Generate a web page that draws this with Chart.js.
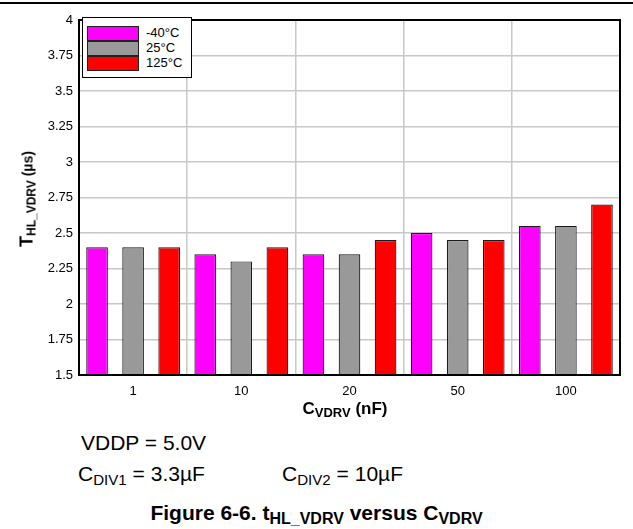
<!DOCTYPE html>
<html>
<head>
<meta charset="utf-8">
<script src="https://cdn.jsdelivr.net/npm/chart.js@4/dist/chart.umd.min.js"></script>
<style>
  body { margin: 0; background: #fff; font-family: "Liberation Sans", Arial, sans-serif; color: #000; }
  #page { position: relative; width: 633px; height: 529px; overflow: hidden; }
  #rule { position: absolute; left: 0; top: 2px; width: 633px; height: 2px; background: #000; }
  #chart-box { position: absolute; left: 0; top: 0; width: 633px; height: 400px; }
  #legend { position: absolute; left: 82px; top: 17px; width: 108px; height: 59px; border: 1.5px solid #000; background: #fff; }
  .legend-row { position: absolute; left: 4px; height: 15px; }
  .legend-swatch { position: absolute; left: 0; top: 0; width: 50px; height: 13px; border: 1px solid #222; }
  .legend-text { position: absolute; left: 59px; top: -1px; font-size: 13px; line-height: 15px; white-space: nowrap; }
  #y-title { position: absolute; left: 27px; top: 199px; transform: translate(-50%, -50%) rotate(-90deg); font-weight: bold; font-size: 14px; white-space: nowrap; }
  #y-title .big { font-size: 18px; }
  #y-title sub { font-size: 12px; }
  #x-title { position: absolute; left: 345px; top: 409px; transform: translate(-50%, -50%); font-weight: bold; font-size: 17px; white-space: nowrap; }
  #x-title sub { font-size: 13px; }
  sub { font-size: 0.72em; vertical-align: -0.25em; line-height: 0; }
  .note { position: absolute; font-size: 21px; white-space: nowrap; line-height: 1; }
  #caption { position: absolute; left: 0; width: 633px; top: 502px; text-align: center; font-weight: bold; font-size: 21px; white-space: nowrap; line-height: 1; }
  #caption sub { font-size: 16px; }
</style>
</head>
<body>
<div id="page">
  <div id="rule"></div>
  <div id="chart-box"><canvas id="chart-main"></canvas></div>
  <div id="legend"></div>
  <div id="y-title"><span class="big">T</span><sub>HL_VDRV</sub> (µs)</div>
  <div id="x-title">C<sub>VDRV</sub> (nF)</div>
  <div class="note" style="left:81px; top:432px;">VDDP = 5.0V</div>
  <div class="note" style="left:78px; top:463px;">C<sub>DIV1</sub> = 3.3µF</div>
  <div class="note" style="left:282px; top:463px;">C<sub>DIV2</sub> = 10µF</div>
  <div id="caption">Figure 6-6. t<sub>HL_VDRV</sub> versus C<sub>VDRV</sub></div>
</div>

<script>
// ------------------------------
// DATA
// ------------------------------

const categories = ["1", "10", "20", "50", "100"];

const seriesNames = ["-40°C", "25°C", "125°C"];
const seriesColors = ["#ff00ff", "#999999", "#ff0000"];

const tempMinus40 = [2.4, 2.35, 2.35, 2.5, 2.55];
const temp25 = [2.4, 2.3, 2.35, 2.45, 2.55];
const temp125 = [2.4, 2.4, 2.45, 2.45, 2.7];

const yMin = 1.5;
const yMax = 4;
const yStep = 0.25;


// ------------------------------
// LEGEND
// ------------------------------

function buildLegend() {

  const legend = document.getElementById("legend");

  seriesNames.forEach((name, i) => {

    const row = document.createElement("div");
    row.className = "legend-row";
    row.style.top = (8 + i * 15) + "px";

    const swatch = document.createElement("div");
    swatch.className = "legend-swatch";
    swatch.style.background = seriesColors[i];

    const text = document.createElement("div");
    text.className = "legend-text";
    text.innerText = name;

    row.appendChild(swatch);
    row.appendChild(text);
    legend.appendChild(row);
  });
}


// ------------------------------
// PLOT FRAME
// ------------------------------

const framePlugin = {
  id: "frame",
  afterDatasetsDraw(chart) {
    const a = chart.chartArea;
    const ctx = chart.ctx;
    ctx.save();
    ctx.strokeStyle = "#000";
    ctx.lineWidth = 2;
    ctx.strokeRect(a.left, a.top, a.right - a.left, a.bottom - a.top);
    ctx.restore();
  }
};


// ------------------------------
// CHART
// ------------------------------

function initChart() {

  const values = [tempMinus40, temp25, temp125];

  new Chart(document.getElementById("chart-main"), {
    type: "bar",
    data: {
      labels: categories,
      datasets: values.map((vals, i) => ({
        label: seriesNames[i],
        data: vals,
        backgroundColor: seriesColors[i],
        borderColor: "#1a1a1a",
        borderWidth: 1.2,
        categoryPercentage: 1.0,
        barPercentage: 0.6
      }))
    },
    options: {
      responsive: true,
      maintainAspectRatio: false,
      animation: false,
      layout: { padding: { left: 0, right: 13, top: 20, bottom: 0 } },
      plugins: {
        legend: { display: false },
        tooltip: { enabled: false }
      },
      scales: {
        x: {
          grid: { color: "#c8c8c8", lineWidth: 1.5, drawTicks: false, offset: true },
          border: { display: false },
          ticks: {
            color: "#000",
            padding: 9,
            font: { family: "'Liberation Sans', Arial", size: 13 }
          },
          afterFit(scale) { scale.height = 25; }
        },
        y: {
          min: yMin,
          max: yMax,
          grid: { color: "#c8c8c8", lineWidth: 1.5, drawTicks: false },
          border: { display: false },
          ticks: {
            stepSize: yStep,
            color: "#000",
            padding: 6,
            font: { family: "'Liberation Sans', Arial", size: 13 },
            callback: v => String(v)
          },
          afterFit(scale) { scale.width = 79; }
        }
      }
    },
    plugins: [framePlugin]
  });
}


// ------------------------------
// PAGE LOAD
// ------------------------------

buildLegend();
initChart();
</script>
</body>
</html>
